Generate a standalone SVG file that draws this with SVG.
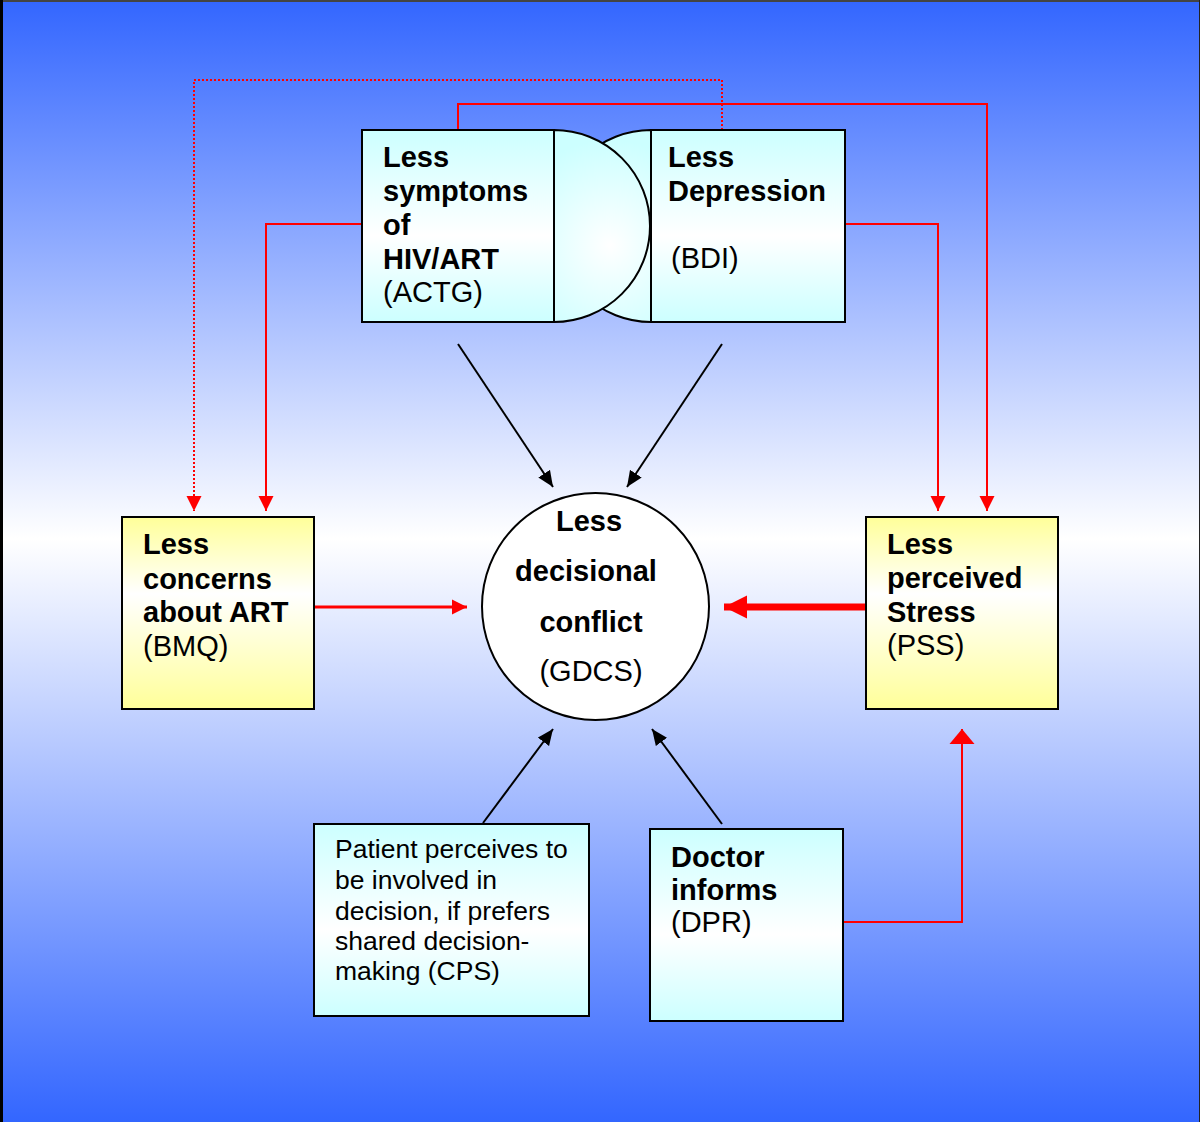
<svg xmlns="http://www.w3.org/2000/svg" width="1200" height="1122" viewBox="0 0 1200 1122">
  <defs>
    <linearGradient id="bg" x1="0" y1="0" x2="0" y2="1">
      <stop offset="0" stop-color="#3366FF"/>
      <stop offset="0.48" stop-color="#FFFFFF"/>
      <stop offset="1" stop-color="#3366FF"/>
    </linearGradient>
    <linearGradient id="cyan" x1="0" y1="0" x2="0" y2="1">
      <stop offset="0" stop-color="#CCFFFF"/>
      <stop offset="0.55" stop-color="#FFFFFF"/>
      <stop offset="1" stop-color="#CCFFFF"/>
    </linearGradient>
    <linearGradient id="yellow" x1="0" y1="0" x2="0" y2="1">
      <stop offset="0" stop-color="#FFFF99"/>
      <stop offset="0.4" stop-color="#FFFFFF"/>
      <stop offset="1" stop-color="#FFFF99"/>
    </linearGradient>
    <radialGradient id="semi" gradientUnits="userSpaceOnUse" cx="610" cy="245" r="105">
      <stop offset="0" stop-color="#FFFFFF"/>
      <stop offset="1" stop-color="#CCFFFF"/>
    </radialGradient>
    <marker id="redHead" markerUnits="userSpaceOnUse" markerWidth="16" markerHeight="16" refX="15" refY="8" orient="auto" viewBox="0 0 16 16">
      <path d="M0,0.5 L15,8 L0,15.5 Z" fill="#FF0000"/>
    </marker>
    <marker id="redHeadWide" markerUnits="userSpaceOnUse" markerWidth="16" markerHeight="26" refX="15" refY="13" orient="auto" viewBox="0 0 16 26">
      <path d="M0,0.5 L15,13 L0,25.5 Z" fill="#FF0000"/>
    </marker>
    <marker id="redHeadBig" markerUnits="userSpaceOnUse" markerWidth="24" markerHeight="24" refX="23" refY="12" orient="auto" viewBox="0 0 24 24">
      <path d="M0,0.5 L23,12 L0,23.5 Z" fill="#FF0000"/>
    </marker>
    <marker id="blackHead" markerUnits="userSpaceOnUse" markerWidth="17" markerHeight="15" refX="16" refY="7.5" orient="auto" viewBox="0 0 17 15">
      <path d="M0,0.5 L16,7.5 L0,14.5 Z" fill="#000000"/>
    </marker>
  </defs>
  <style>
    .box { stroke: #000; stroke-width: 2; }
    .cy { fill: url(#cyan); }
    .ye { fill: url(#yellow); }
    .t { font-family: "Liberation Sans", Arial, sans-serif; fill: #000; }
    .b { font-weight: bold; font-size: 29px; }
    .r { font-weight: normal; font-size: 29px; }
    .s { font-weight: normal; font-size: 26.5px; }
    .red { fill: none; stroke: #FF0000; stroke-width: 2; }
    .blk { fill: none; stroke: #000; stroke-width: 2; }
  </style>

  <!-- background -->
  <rect x="0" y="0" width="1200" height="1122" fill="url(#bg)"/>
  <line x1="0" y1="1" x2="1200" y2="1" stroke="#444" stroke-width="2"/>
  <line x1="1.5" y1="0" x2="1.5" y2="1122" stroke="#000" stroke-width="3"/>
  <line x1="1199.5" y1="0" x2="1199.5" y2="1122" stroke="#222" stroke-width="1"/>

  <!-- connectors -->
  <g id="connectors">
    <polyline class="red" stroke-dasharray="2,2" points="722,130 722,80 194,80 194,511" marker-end="url(#redHead)"/>
    <polyline class="red" points="458,130 458,104 987,104 987,511" marker-end="url(#redHead)"/>
    <polyline class="red" points="362,224 266,224 266,511" marker-end="url(#redHead)"/>
    <polyline class="red" points="845,224 938,224 938,511" marker-end="url(#redHead)"/>
    <line x1="314" y1="607" x2="467" y2="607" stroke="#FF0000" stroke-width="3" marker-end="url(#redHead)"/>
    <line x1="866" y1="607" x2="724" y2="607" stroke="#FF0000" stroke-width="7" marker-end="url(#redHeadBig)"/>
    <polyline class="red" points="843,922 962,922 962,729" marker-end="url(#redHeadWide)"/>
    <line class="blk" x1="458" y1="344" x2="553" y2="487" marker-end="url(#blackHead)"/>
    <line class="blk" x1="722" y1="344" x2="627" y2="487" marker-end="url(#blackHead)"/>
    <line class="blk" x1="483" y1="823" x2="553" y2="729" marker-end="url(#blackHead)"/>
    <line class="blk" x1="722" y1="824" x2="652" y2="729" marker-end="url(#blackHead)"/>
  </g>

  <!-- top pair: BDI semicircle drawn first (behind) -->
  <g id="bdi">
    <path d="M651,130 A96,96 0 0 0 651,322 Z" fill="url(#semi)" class="box"/>
    <rect x="651" y="130" width="194" height="192" class="box cy"/>
    <text class="t b" x="668" y="167">Less</text>
    <text class="t b" x="668" y="201">Depression</text>
    <text class="t r" x="671" y="268">(BDI)</text>
  </g>

  <g id="actg">
    <rect x="362" y="130" width="192" height="192" class="box cy"/>
    <path d="M554,130 A96,96 0 0 1 554,322 Z" fill="url(#semi)" class="box"/>
    <text class="t b" x="383" y="167">Less</text>
    <text class="t b" x="383" y="201">symptoms</text>
    <text class="t b" x="383" y="235">of</text>
    <text class="t b" x="383" y="269">HIV/ART</text>
    <text class="t r" x="383" y="302">(ACTG)</text>
  </g>

  <g id="bmq">
    <rect x="122" y="517" width="192" height="192" class="box ye"/>
    <text class="t b" x="143" y="554">Less</text>
    <text class="t b" x="143" y="589">concerns</text>
    <text class="t b" x="143" y="622">about ART</text>
    <text class="t r" x="143" y="656">(BMQ)</text>
  </g>

  <g id="gdcs">
    <circle cx="595.5" cy="606.5" r="113.5" fill="#FFFFFF" stroke="#000" stroke-width="2"/>
    <text class="t b" x="589" y="531" text-anchor="middle">Less</text>
    <text class="t b" x="586" y="581" text-anchor="middle">decisional</text>
    <text class="t b" x="591" y="632" text-anchor="middle">conflict</text>
    <text class="t r" x="591" y="681" text-anchor="middle">(GDCS)</text>
  </g>

  <g id="pss">
    <rect x="866" y="517" width="192" height="192" class="box ye"/>
    <text class="t b" x="887" y="554">Less</text>
    <text class="t b" x="887" y="588">perceived</text>
    <text class="t b" x="887" y="622">Stress</text>
    <text class="t r" x="887" y="655">(PSS)</text>
  </g>

  <g id="cps">
    <rect x="314" y="824" width="275" height="192" class="box cy"/>
    <text class="t s" x="335" y="858">Patient perceives to</text>
    <text class="t s" x="335" y="889">be involved in</text>
    <text class="t s" x="335" y="920">decision, if prefers</text>
    <text class="t s" x="335" y="950">shared decision-</text>
    <text class="t s" x="335" y="980">making (CPS)</text>
  </g>

  <g id="dpr">
    <rect x="650" y="829" width="193" height="192" class="box cy"/>
    <text class="t b" x="671" y="867">Doctor</text>
    <text class="t b" x="671" y="900">informs</text>
    <text class="t r" x="671" y="932">(DPR)</text>
  </g>
</svg>
